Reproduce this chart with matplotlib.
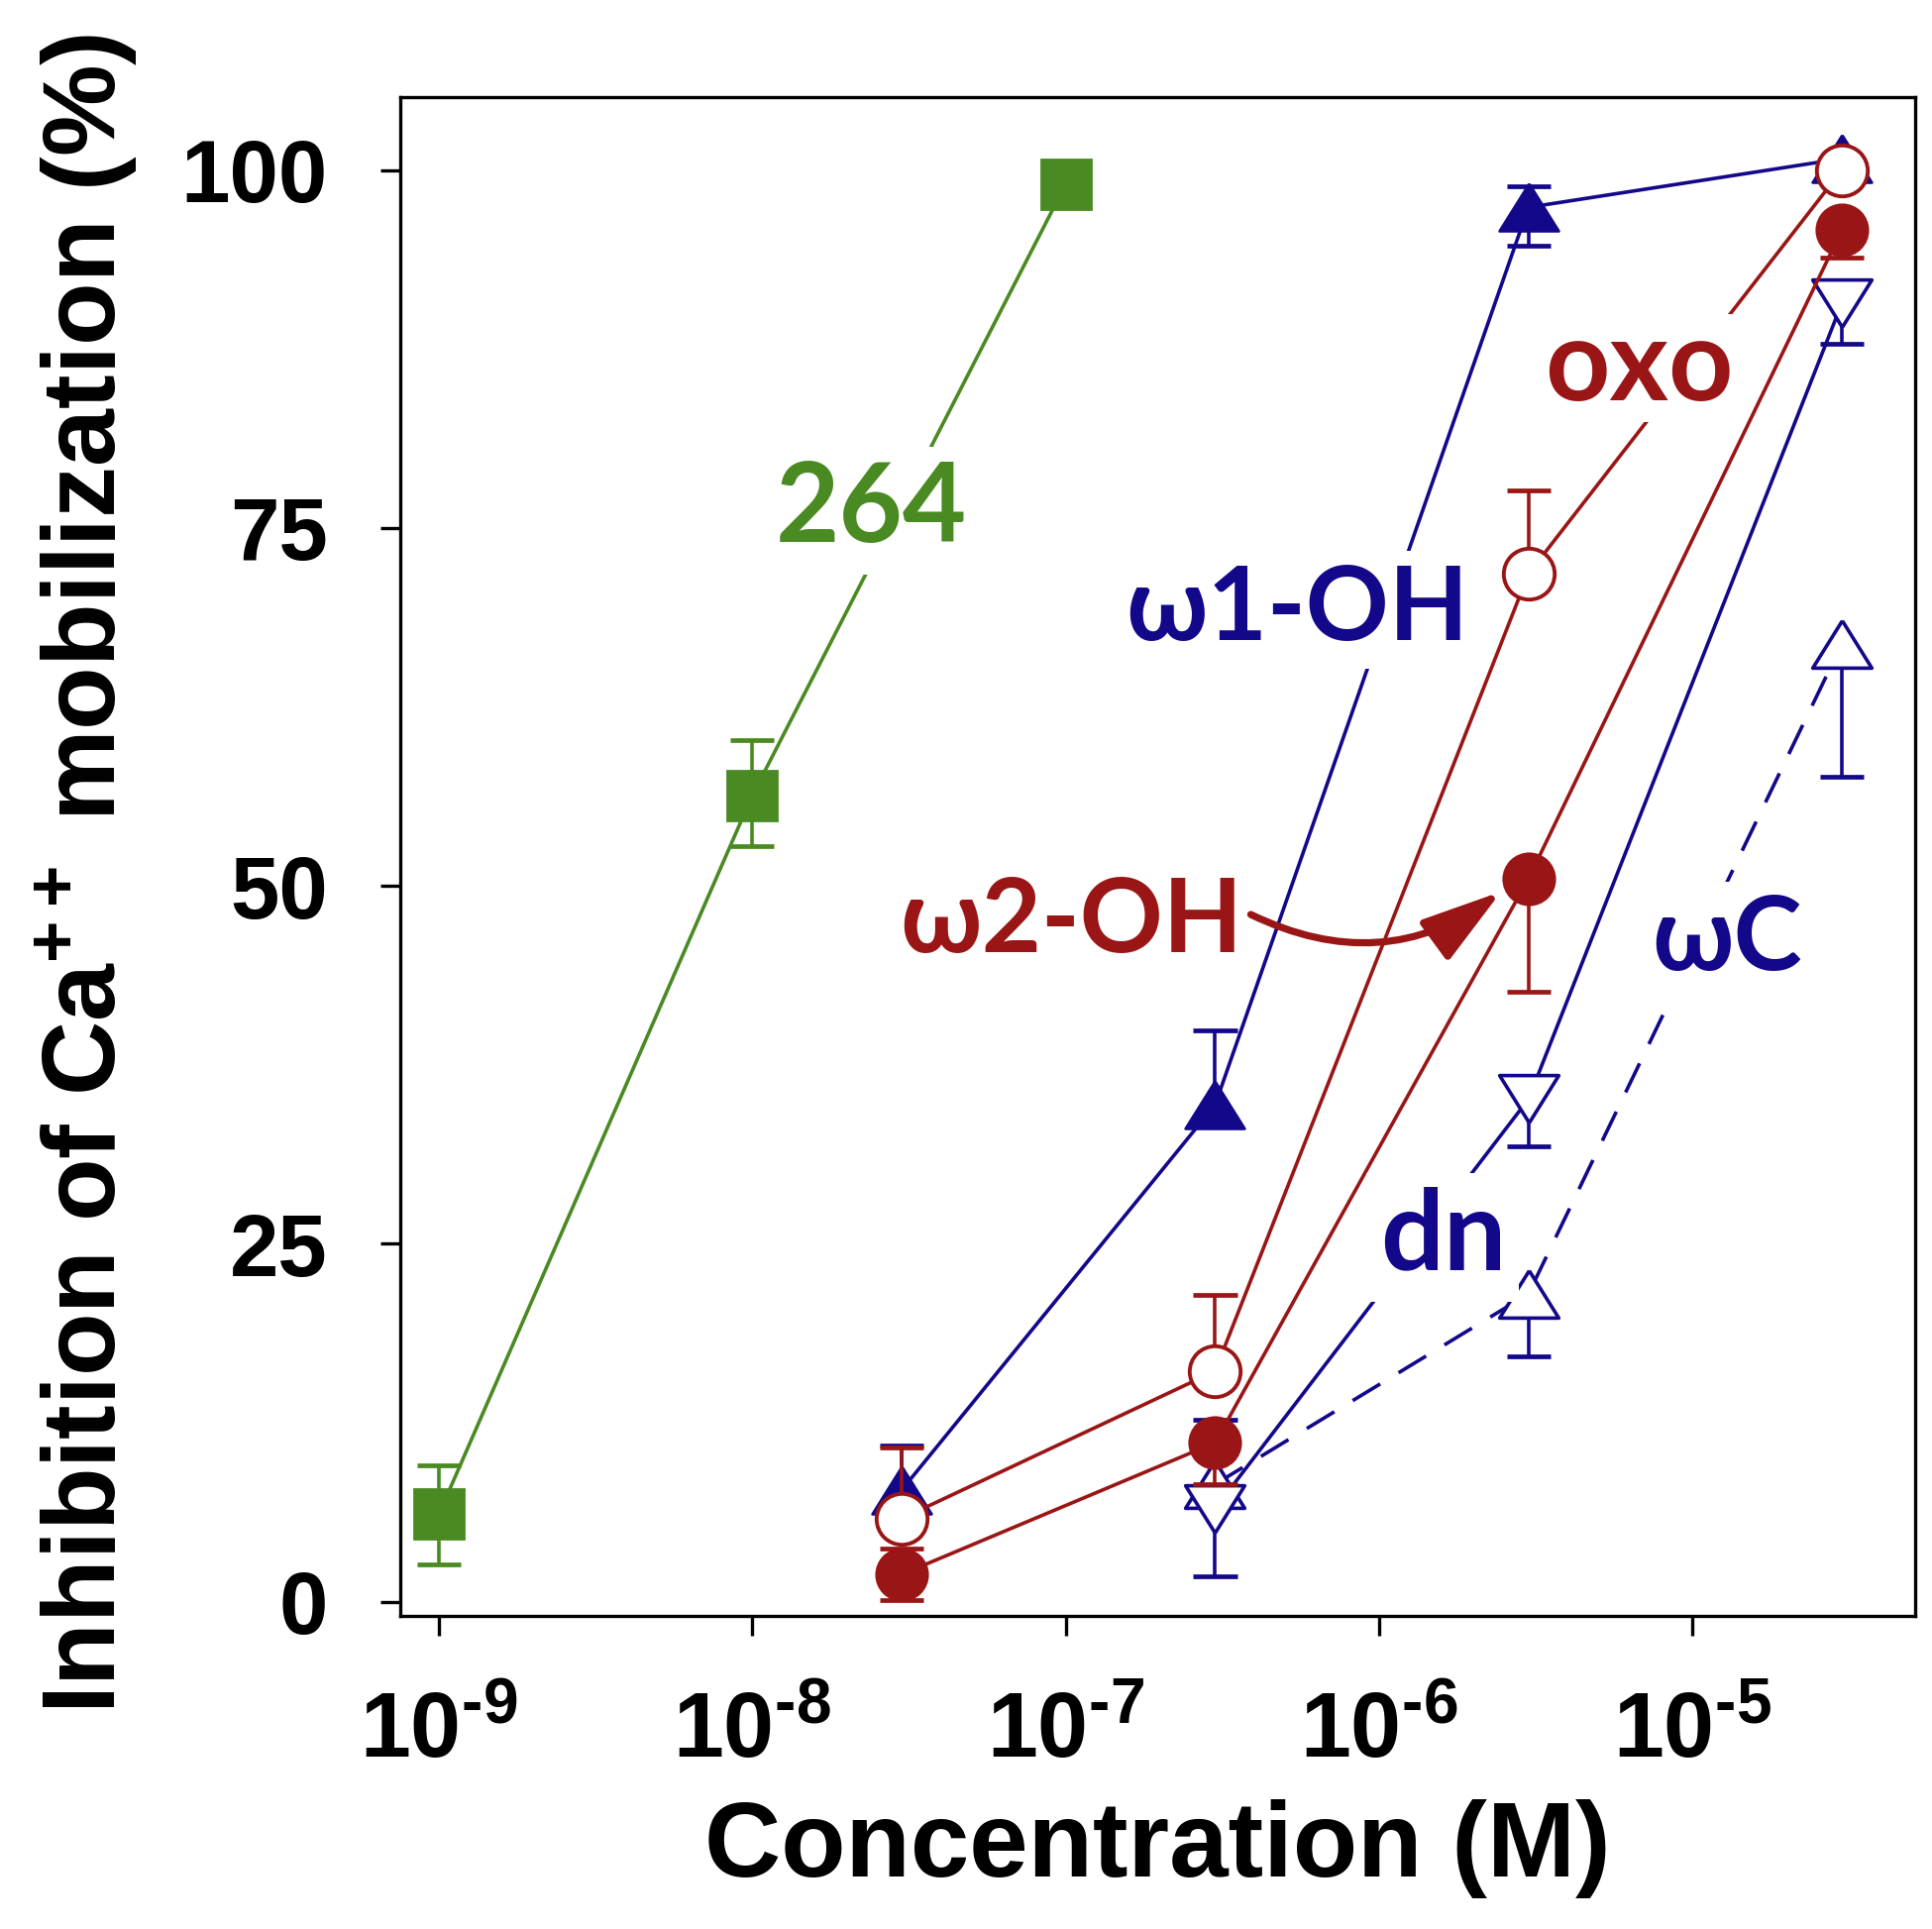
import matplotlib
matplotlib.use('Agg')
import matplotlib.pyplot as plt
from matplotlib.ticker import FixedLocator, NullLocator

plt.rcParams['font.family'] = ['Liberation Sans', 'DejaVu Sans']
plt.rcParams['font.weight'] = 'bold'
plt.rcParams['mathtext.fontset'] = 'custom'
plt.rcParams['mathtext.rm'] = 'Liberation Sans:bold'
plt.rcParams['mathtext.bf'] = 'Liberation Sans:bold'
plt.rcParams['mathtext.it'] = 'Liberation Sans:bold'

GREEN = '#4a8a22'
RED = '#9a1616'
NAVY = '#14088a'
LABEL_FONT = ['Lato', 'DejaVu Sans']

# ---- data ----
conc_264 = [1e-9, 1e-8, 1e-7]
inh_264 = [6.1, 56.3, 99.0]
lo_264 = [3.5, 3.5, 0]
hi_264 = [3.4, 3.9, 0]

conc = [3e-8, 3e-7, 3e-6, 3e-5]
w1oh = [7.8, 34.7, 97.4, 100.8]
w1oh_lo = [0, 0, 2.7, 0]
w1oh_hi = [3.1, 5.2, 1.5, 0]
oxo = [5.8, 16.1, 71.8, 100.0]
oxo_lo = [0, 0, 0, 0]
oxo_hi = [5.0, 5.3, 5.8, 0]
w2oh = [1.9, 11.1, 50.5, 95.8]
w2oh_lo = [1.8, 2.9, 7.9, 1.9]
w2oh_hi = [1.8, 0, 0, 0]

conc_b = [3e-7, 3e-6, 3e-5]
dn = [6.5, 35.1, 90.7]
dn_lo = [4.7, 3.3, 2.8]
dn_hi = [0, 0, 0]
wc = [8.2, 21.5, 66.9]
wc_lo = [0, 4.4, 9.3]
wc_hi = [4.5, 0, 0]

xticks = [1e-9, 1e-8, 1e-7, 1e-6, 1e-5]
xticklabels = [r'$\mathbf{10}^{\text{-9}}$', r'$\mathbf{10}^{\text{-8}}$',
               r'$\mathbf{10}^{\text{-7}}$', r'$\mathbf{10}^{\text{-6}}$',
               r'$\mathbf{10}^{\text{-5}}$']
yticks = [0, 25, 50, 75, 100]

TRI_UP = [(0, 0.8), (-1, -0.8), (1, -0.8), (0, 0.8)]
TRI_DN = [(0, -0.8), (-1, 0.8), (1, 0.8), (0, -0.8)]

LW = 2.6


def errbars(ax, x, y, lo, hi, color, z):
    # one sided bars as drawn in the original
    for xi, yi, l, h in zip(x, y, lo, hi):
        for e in (-l, h):
            if e == 0:
                continue
            ax.plot([xi, xi], [yi, yi + e], color=color, lw=LW, zorder=z,
                    solid_capstyle='butt')
            ax.plot([xi * 10 ** -0.07, xi * 10 ** 0.07], [yi + e, yi + e],
                    color=color, lw=3.4, zorder=z, solid_capstyle='butt')


fig = plt.figure(figsize=(19.5, 19.47), dpi=100)
ax = fig.add_axes([404 / 1950, 1 - 1631 / 1947, 1529 / 1950, 1533 / 1947])
ax.set_xscale('log')

# 264 (green squares)
errbars(ax, conc_264, inh_264, lo_264, hi_264, GREEN, 2)
ax.plot(conc_264, inh_264, color=GREEN, lw=LW, marker='s', ms=36, mew=2,
        mfc=GREEN, mec=GREEN, zorder=3)

# omega1-OH (filled triangles up)
errbars(ax, conc, w1oh, w1oh_lo, w1oh_hi, NAVY, 2)
ax.plot(conc, w1oh, color=NAVY, lw=LW, marker=TRI_UP, ms=43, mew=2,
        mfc=NAVY, mec=NAVY, zorder=3)

# omega C (open triangles up, dashed)
errbars(ax, conc_b, wc, wc_lo, wc_hi, NAVY, 2)
ax.plot(conc_b, wc, color=NAVY, lw=LW, ls=(0, (9, 6)), marker=TRI_UP, ms=43,
        mew=2.6, mfc='white', mec=NAVY, zorder=3)

# dn (open triangles down)
errbars(ax, conc_b, dn, dn_lo, dn_hi, NAVY, 2)
ax.plot(conc_b, dn, color=NAVY, lw=LW, marker=TRI_DN, ms=43, mew=2.6,
        mfc='white', mec=NAVY, zorder=3)

# omega2-OH (filled circles)
errbars(ax, conc, w2oh, w2oh_lo, w2oh_hi, RED, 3.5)
ax.plot(conc, w2oh, color=RED, lw=LW, marker='o', ms=37, mew=2,
        mfc=RED, mec=RED, zorder=4)

# oxo (open circles)
errbars(ax, conc, oxo, oxo_lo, oxo_hi, RED, 4.5)
ax.plot(conc, oxo, color=RED, lw=LW, marker='o', ms=37, mew=2.8,
        mfc='white', mec=RED, zorder=5)

# series labels, white box breaks the lines behind them
box = dict(boxstyle='square,pad=0.12', fc='white', ec='none')
kw = dict(ha='center', va='baseline', fontweight='bold',
          family=LABEL_FONT, zorder=6)
ax.text(10 ** -7.619, 74.0, '264', color=GREEN, fontsize=80, bbox=box, **kw)
ax.text(10 ** -5.170, 83.9, 'oxo', color=RED, fontsize=82,
        bbox=dict(boxstyle='square,pad=0.02', fc='white', ec='none'), **kw)
ax.text(10 ** -6.261, 67.2, 'ω1-OH', color=NAVY, fontsize=75, bbox=box, **kw)
ax.text(10 ** -6.981, 45.4, 'ω2-OH', color=RED, fontsize=75, bbox=box, **kw)
ax.text(10 ** -4.890, 44.1, 'ωC', color=NAVY, fontsize=75, bbox=box, **kw)
ax.text(10 ** -5.796, 23.2, 'dn', color=NAVY, fontsize=81, bbox=box, **kw)

ax.annotate('', xy=(10 ** -5.61, 49.6), xytext=(10 ** -6.409, 48.0),
            arrowprops=dict(arrowstyle='-|>,head_length=1.0,head_width=0.3',
                            connectionstyle='arc3,rad=0.3', lw=5.2, color=RED,
                            mutation_scale=50, shrinkA=0, shrinkB=0),
            zorder=7)

ax.set_xlim(10 ** -9.123, 10 ** -4.289)
ax.set_ylim(-1.0, 105.1)
ax.xaxis.set_major_locator(FixedLocator(xticks))
ax.xaxis.set_minor_locator(NullLocator())
ax.set_xticklabels(xticklabels)
ax.set_yticks(yticks)
ax.set_yticklabels([str(v) for v in yticks])

for s in ax.spines.values():
    s.set_linewidth(2.4)
ax.tick_params(axis='both', length=14.5, width=2.4, labelsize=64)
ax.tick_params(axis='x', labelsize=66)
ax.tick_params(axis='y', pad=38)
ax.tick_params(axis='x', pad=40)
for lab in ax.get_xticklabels() + ax.get_yticklabels():
    lab.set_fontweight('bold')

fig.text(1168 / 1950, 1 - 1866 / 1947, 'Concentration (M)', ha='center',
         va='center', fontsize=77, fontweight='bold')
fig.text(87 / 1950, 1 - 882 / 1947,
         r'Inhibition of Ca$^{\mathbf{++}}$ mobilization (%)', ha='center',
         va='center', rotation=90, fontsize=75, fontweight='bold')

fig.savefig('out.png', dpi=100)
